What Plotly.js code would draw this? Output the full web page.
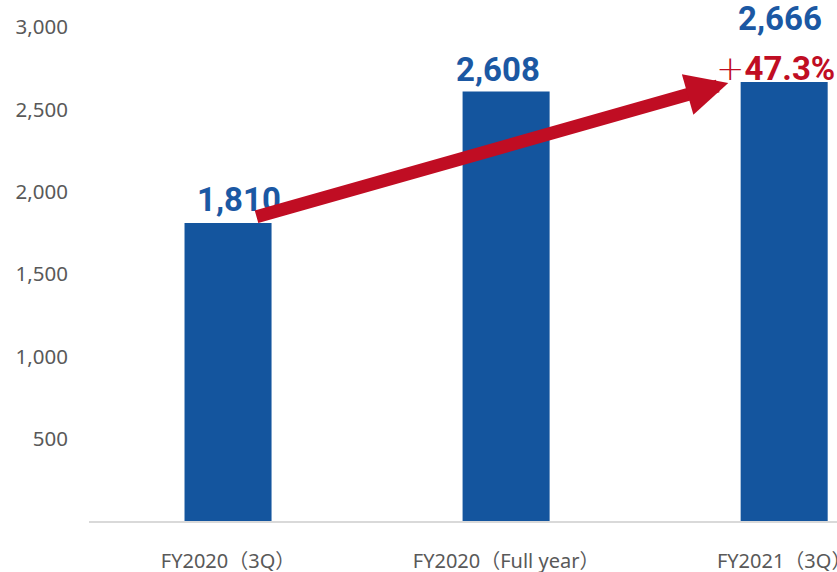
<!DOCTYPE html>
<html>
<head>
<meta charset="utf-8">
<script src="https://cdn.plot.ly/plotly-3.0.1.min.js"></script>
<style>html,body{margin:0;padding:0;background:#fff;}#chart{width:837px;height:572px;}</style>
</head>
<body>
<div id="chart"></div>
<script>
// Data
var categories = ["FY2020（3Q）", "FY2020（Full year）", "FY2021（3Q）"];
var values = [1810, 2608, 2666];
var valueLabels = ["1,810", "2,608", "2,666"];
var growthLabel = "+47.3%";
var yTickVals = [500, 1000, 1500, 2000, 2500, 3000];
var yTickText = ["500", "1,000", "1,500", "2,000", "2,500", "3,000"];

var BLUE = "#14559E";
var LABEL_BLUE = "#1B58A3";
var RED = "#C00D23";
var GRAY = "#595959";

var trace = {
  type: "bar",
  x: [0, 1, 2],
  y: values,
  marker: {color: BLUE},
  hoverinfo: "skip",
  cliponaxis: false
};

var labelFont = {family: "Roboto, 'Noto Sans', sans-serif", size: 33, color: LABEL_BLUE, weight: 700};
var shifts = [[11, 23], [-8, 22], [-4, 64]];
var annotations = values.map(function (v, i) {
  return {
    x: i, y: v, xref: "x", yref: "y",
    text: valueLabels[i], showarrow: false,
    xanchor: "center", yanchor: "middle",
    xshift: shifts[i][0], yshift: shifts[i][1],
    font: labelFont
  };
});
annotations.push({
  x: 2, y: values[2], xref: "x", yref: "y",
  text: "<span style=\"font-family:'DejaVu Sans';font-weight:200;font-size:34px\">" + growthLabel.charAt(0) + "</span><b>" + growthLabel.slice(1) + "</b>",
  showarrow: false,
  xanchor: "center", yanchor: "middle",
  xshift: -9, yshift: 14,
  font: {family: "Roboto, 'Noto Sans', sans-serif", size: 33, color: RED}
});
// growth arrow from first bar to third bar
annotations.push({
  x: 1.799, y: 2660, xref: "x", yref: "y",
  ax: 0.097, ay: 1845, axref: "x", ayref: "y",
  text: "", showarrow: true,
  arrowhead: 2, arrowsize: 0.65, arrowwidth: 13, arrowcolor: RED,
  standoff: 0, startstandoff: 0
});

var layout = {
  width: 837, height: 572,
  margin: {l: 89, r: 0, t: 27, b: 51, pad: 0},
  paper_bgcolor: "#fff", plot_bgcolor: "#fff",
  showlegend: false,
  bargap: 0.687,
  xaxis: {
    type: "linear",
    range: [-0.5, 2.19],
    tickvals: [0, 1, 2],
    ticktext: categories,
    showgrid: false, zeroline: false,
    showline: true, linecolor: "#D9D9D9", linewidth: 1.5,
    ticks: "", ticklabelstandoff: 21,
    ticklabeloverflow: "allow",
    tickfont: {family: "'Noto Sans', 'Noto Sans CJK JP', sans-serif", size: 20, color: GRAY}
  },
  yaxis: {
    range: [0, 3000],
    tickvals: yTickVals,
    ticktext: yTickText,
    showgrid: false, zeroline: false, showline: false,
    ticks: "", ticklabelstandoff: 20,
    tickfont: {family: "'Noto Sans', sans-serif", size: 20.5, color: GRAY}
  },
  annotations: annotations
};

Plotly.newPlot("chart", [trace], layout, {displayModeBar: false, staticPlot: true});
</script>
</body>
</html>
